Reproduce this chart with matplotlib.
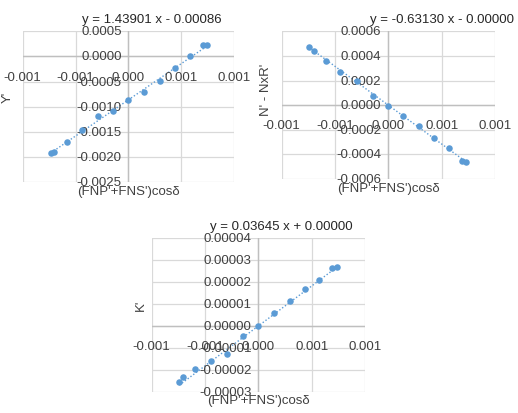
import numpy as np
import matplotlib

matplotlib.use("Agg")
import matplotlib.pyplot as plt  # noqa: E402

plt.rcParams["font.family"] = ["Liberation Sans", "DejaVu Sans"]

# --- dados ---
x_y = [-0.000735, -0.000701, -0.000584, -0.000436, -0.000288, -0.000143, 0.000000,
       0.000146, 0.000294, 0.000439, 0.000578, 0.000700, 0.000739]
y_y = [-0.001917, -0.001890, -0.001705, -0.001470, -0.001189, -0.001090, -0.000858,
       -0.000705, -0.000493, -0.000229, 0.000003, 0.000222, 0.000222]

x_n = [-0.000741, -0.000700, -0.000588, -0.000453, -0.000297, -0.000147, -0.000006,
       0.000140, 0.000288, 0.000431, 0.000572, 0.000690, 0.000725]
y_n = [0.000470, 0.000443, 0.000362, 0.000272, 0.000200, 0.0000745, -0.0000056,
       -0.0000867, -0.000173, -0.000270, -0.000352, -0.000456, -0.000464]

x_k = [-0.000741, -0.000706, -0.000594, -0.000447, -0.000291, -0.000140, 0.000000,
       0.000147, 0.000294, 0.000438, 0.000572, 0.000691, 0.000734]
y_k = [-0.0000254, -0.0000235, -0.0000197, -0.0000158, -0.0000130, -0.0000044, 0.0,
       0.0000058, 0.0000114, 0.0000170, 0.0000210, 0.0000266, 0.0000269]

x_ticks = [-0.001, -0.0005, 0.0, 0.0005, 0.001]
x_ticklabels = ["-0.001", "-0.001", "0.000", "0.001", "0.001"]

y_ticks_y = [0.0005, 0.0, -0.0005, -0.001, -0.0015, -0.002, -0.0025]
y_ticks_n = [0.0006, 0.0004, 0.0002, 0.0, -0.0002, -0.0004, -0.0006]
y_ticks_k = [0.00004, 0.00003, 0.00002, 0.00001, 0.0, -0.00001, -0.00002, -0.00003]

fits = {"y": (1.43901, -0.00086), "n": (-0.63130, -0.00000), "k": (0.03645, 0.00000)}
titles = {"y": "y = 1.43901 x - 0.00086",
          "n": "y = -0.63130 x - 0.00000",
          "k": "y = 0.03645 x + 0.00000"}

AZUL = "#5b9bd5"
GRADE = "#d9d9d9"
EIXO = "#bfbfbf"
FS = 9.5


def painel(ax, xs, ys, yticks, ydec, chave, ylabel, title_dx, ylab_xy):
    ax.set_xlim(x_ticks[0], x_ticks[-1])
    ax.set_ylim(min(yticks), max(yticks))
    for s in ax.spines.values():
        s.set_visible(False)
    ax.set_xticks(x_ticks)
    ax.set_yticks(yticks)
    ax.tick_params(length=0, labelbottom=False, labelleft=False)
    ax.grid(True, color=GRADE, lw=0.9)
    ax.axhline(0, color=EIXO, lw=1.0)
    ax.axvline(0, color=EIXO, lw=1.0)

    a, b = fits[chave]
    xl = np.array([min(xs), max(xs)])
    ax.plot(xl, a * xl + b, ls=(0, (1, 1.5)), color=AZUL, lw=1.0, zorder=3)
    ax.scatter(xs, ys, s=22, color=AZUL, zorder=4, linewidths=0)

    for xt, lab in zip(x_ticks, x_ticklabels):
        ax.annotate(lab, (xt, 0), xytext=(0, -14.5), textcoords="offset points",
                    ha="center", va="center", fontsize=FS, color="#404040",
                    annotation_clip=False)
    for yt in yticks:
        ax.annotate(f"{yt:.{ydec}f}", (0, yt), xytext=(-5, 0), textcoords="offset points",
                    ha="right", va="center", fontsize=FS, color="#404040",
                    annotation_clip=False)

    ax.set_title(titles[chave], fontsize=FS, color="#262626", pad=7, x=0.5 + title_dx)
    ax.set_xlabel("(FNP'+FNS')cosδ", fontsize=FS, color="#404040", labelpad=2)
    ax.set_ylabel(ylabel, fontsize=FS, color="#404040")
    ax.yaxis.set_label_coords(*ylab_xy)


fig = plt.figure(figsize=(5.18, 4.14), dpi=100)

ax1 = fig.add_axes([0.0438, 0.5572, 0.4085, 0.3647])
painel(ax1, x_y, y_y, y_ticks_y, 4, "y", "Y'", 0.11, (-0.04, 0.57))

ax2 = fig.add_axes([0.5438, 0.5652, 0.4118, 0.3567])
painel(ax2, x_n, y_n, y_ticks_n, 4, "n", "N' - NxR'", 0.25, (-0.045, 0.61))

ax3 = fig.add_axes([0.2928, 0.0515, 0.4118, 0.3704])
painel(ax3, x_k, y_k, y_ticks_k, 5, "k", "K'", 0.11, (-0.022, 0.57))

fig.savefig("out.png", dpi=100)
plt.close(fig)
